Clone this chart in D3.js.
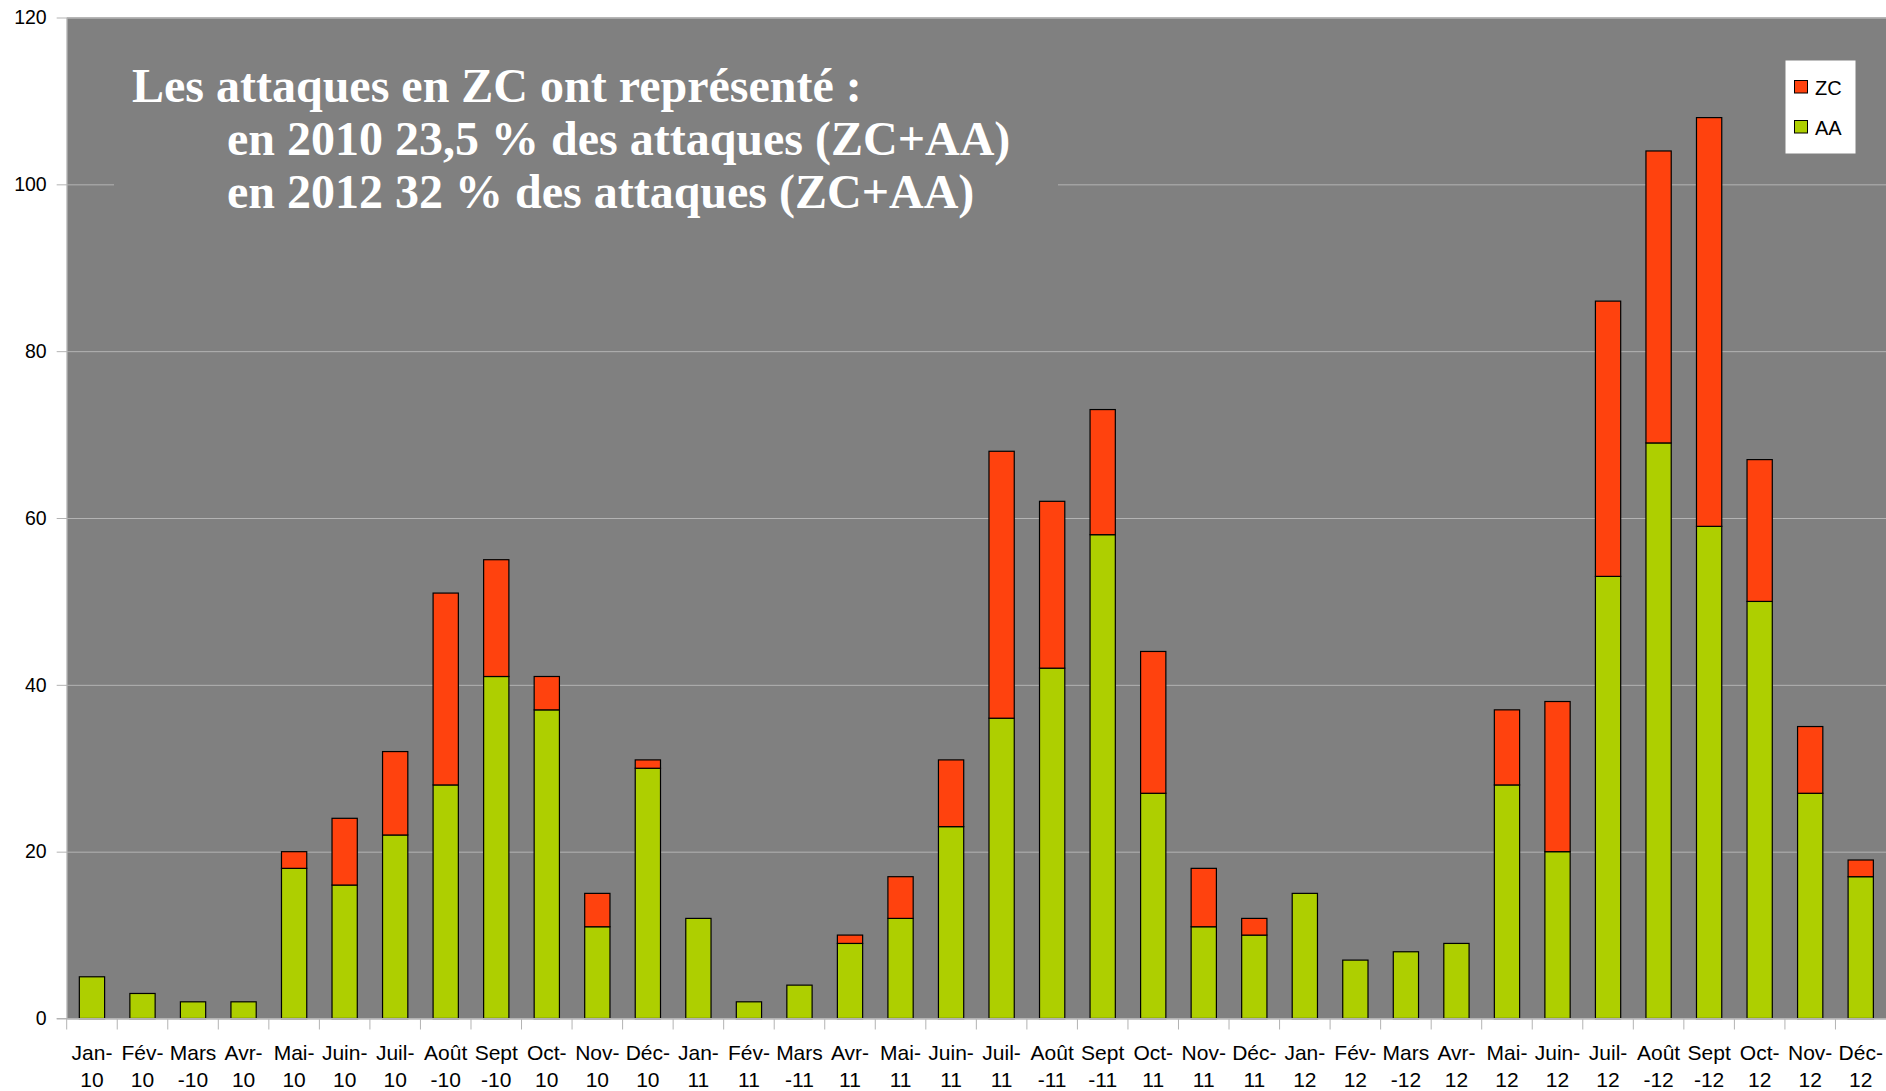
<!DOCTYPE html>
<html>
<head>
<meta charset="utf-8">
<script src="https://cdn.jsdelivr.net/npm/d3@7"></script>
<style>
  html, body { margin: 0; padding: 0; background: #ffffff; }
  svg { display: block; }
</style>
</head>
<body>
<svg id="chart" width="1886" height="1091"></svg>
<script>
// Monthly attacks, 2010-2012: AA (bottom of stack) and ZC (on top)
const categories = [
  "Jan-10","Fév-10","Mars-10","Avr-10","Mai-10","Juin-10","Juil-10","Août-10","Sept-10","Oct-10","Nov-10","Déc-10",
  "Jan-11","Fév-11","Mars-11","Avr-11","Mai-11","Juin-11","Juil-11","Août-11","Sept-11","Oct-11","Nov-11","Déc-11",
  "Jan-12","Fév-12","Mars-12","Avr-12","Mai-12","Juin-12","Juil-12","Août-12","Sept-12","Oct-12","Nov-12","Déc-12"
];
const aaValues = [
  5, 3, 2, 2, 18, 16, 22, 28, 41, 37, 11, 30,
  12, 2, 4, 9, 12, 23, 36, 42, 58, 27, 11, 10,
  15, 7, 8, 9, 28, 20, 53, 69, 59, 50, 27, 17
];
const zcValues = [
  0, 0, 0, 0, 2, 8, 10, 23, 14, 4, 4, 1,
  0, 0, 0, 1, 5, 8, 32, 20, 15, 17, 7, 2,
  0, 0, 0, 0, 9, 18, 33, 35, 49, 17, 8, 2
];
const seriesNames = ["AA", "ZC"];
const yTicks = [0, 20, 40, 60, 80, 100, 120];
const titleLines = [
  "Les attaques en ZC ont représenté :",
  "en 2010 23,5 % des attaques (ZC+AA)",
  "en 2012 32 % des attaques (ZC+AA)"
];
// Month names that wrap before the hyphen in the axis labels
const wrapBeforeHyphen = ["Mars", "Août", "Sept"];

const colors = { AA: "#aecf00", ZC: "#ff420e" };

const svg = d3.select("#chart");
const plot = { left: 66.7, right: 1886, top: 17.5, bottom: 1018.5 };

const rows = categories.map((c, i) => ({ cat: c, AA: aaValues[i], ZC: zcValues[i] }));
const stacked = d3.stack().keys(seriesNames)(rows);

const x = d3.scaleBand()
  .domain(categories)
  .range([plot.left, plot.right])
  .paddingInner(0.5)
  .paddingOuter(0.25);

const y = d3.scaleLinear()
  .domain([0, 120])
  .range([plot.bottom, plot.top]);

// Plot background
svg.append("rect")
  .attr("x", plot.left).attr("y", plot.top)
  .attr("width", plot.right - plot.left).attr("height", plot.bottom - plot.top)
  .attr("fill", "#808080");

// Gridlines and y axis
const yAxis = d3.axisLeft(y)
  .tickValues(yTicks)
  .tickSize(-(plot.right - plot.left))
  .tickPadding(20)
  .tickFormat(d3.format("d"));
const gy = svg.append("g")
  .attr("transform", `translate(${plot.left},0)`)
  .call(yAxis);
gy.select(".domain").attr("stroke", "#b3b3b3");
gy.selectAll(".tick line").attr("stroke", "#b3b3b3").attr("x1", -10);
gy.selectAll(".tick text")
  .attr("font-family", "'Liberation Sans', Arial, sans-serif")
  .attr("font-size", 19.5)
  .attr("fill", "#000");

// Box behind the title text
svg.append("rect")
  .attr("x", 114).attr("y", 40)
  .attr("width", 944).attr("height", 195)
  .attr("fill", "#808080");

// Stacked bars
svg.append("g")
  .selectAll("g")
  .data(stacked)
  .join("g")
  .attr("fill", d => colors[d.key])
  .selectAll("rect")
  .data(d => d.filter(p => p[1] > p[0]))
  .join("rect")
  .attr("x", d => x(d.data.cat))
  .attr("width", x.bandwidth())
  .attr("y", d => y(d[1]))
  .attr("height", d => y(d[0]) - y(d[1]))
  .attr("stroke", "#000")
  .attr("stroke-width", 1.2);

// X axis: ticks at the band boundaries, two-line labels
const gx = svg.append("g");
gx.append("line")
  .attr("x1", plot.left - 10).attr("x2", plot.right)
  .attr("y1", plot.bottom).attr("y2", plot.bottom)
  .attr("stroke", "#b3b3b3");
const bounds = categories.map(c => x(c) + x.bandwidth() / 2 - x.step() / 2);
gx.selectAll("line.tk")
  .data(bounds)
  .join("line")
  .attr("class", "tk")
  .attr("x1", d => d).attr("x2", d => d)
  .attr("y1", plot.bottom).attr("y2", plot.bottom + 11)
  .attr("stroke", "#b3b3b3");

const labels = gx.selectAll("text")
  .data(categories)
  .join("text")
  .attr("x", d => x(d) + x.bandwidth() / 2)
  .attr("y", 1060)
  .attr("text-anchor", "middle")
  .attr("font-family", "'Liberation Sans', Arial, sans-serif")
  .attr("font-size", 21)
  .attr("fill", "#000");
labels.each(function (d) {
  const [m, yr] = d.split("-");
  const lines = wrapBeforeHyphen.includes(m) ? [m, "-" + yr] : [m + "-", yr];
  const t = d3.select(this);
  t.append("tspan").attr("x", x(d) + x.bandwidth() / 2).text(lines[0]);
  t.append("tspan").attr("x", x(d) + x.bandwidth() / 2).attr("dy", 27).text(lines[1]);
});

// Title block
const title = svg.append("g")
  .attr("font-family", "'Liberation Serif', 'Times New Roman', serif")
  .attr("font-weight", "bold")
  .attr("font-size", 48)
  .attr("fill", "#ffffff");
title.selectAll("text")
  .data(titleLines)
  .join("text")
  .attr("x", (d, i) => i === 0 ? 132 : 227)
  .attr("y", (d, i) => 102 + i * 53)
  .text(d => d);

// Legend
const legend = svg.append("g");
legend.append("rect")
  .attr("x", 1785.5).attr("y", 60.5)
  .attr("width", 70).attr("height", 93)
  .attr("fill", "#ffffff");
const legendItems = ["ZC", "AA"];
const li = legend.selectAll("g.item")
  .data(legendItems)
  .join("g")
  .attr("class", "item")
  .attr("transform", (d, i) => `translate(1794.5,${80.5 + i * 40})`);
li.append("rect")
  .attr("width", 13).attr("height", 12.5)
  .attr("fill", d => colors[d])
  .attr("stroke", "#000")
  .attr("stroke-width", 1);
li.append("text")
  .attr("x", 20.5).attr("y", 14.5)
  .attr("font-family", "'Liberation Sans', Arial, sans-serif")
  .attr("font-size", 20)
  .attr("fill", "#000")
  .text(d => d);
</script>
</body>
</html>
